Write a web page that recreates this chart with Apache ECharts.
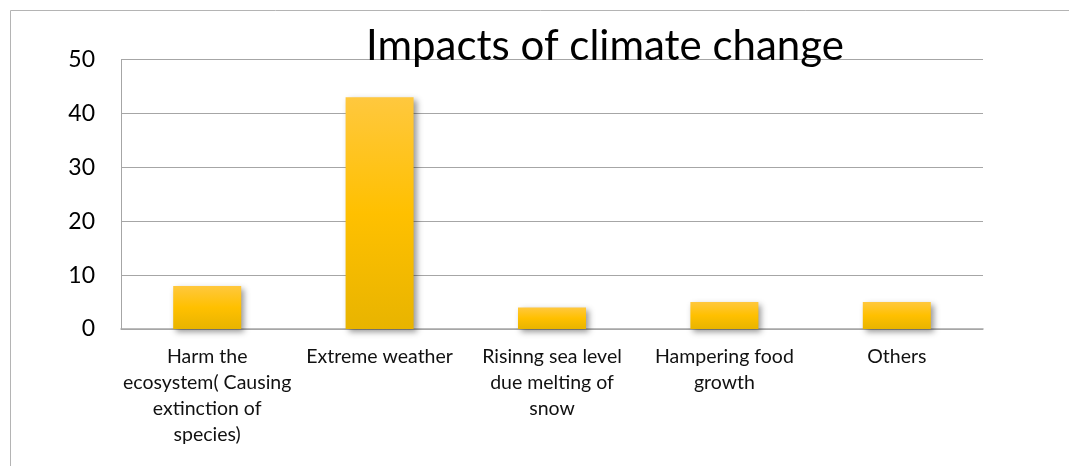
<!DOCTYPE html>
<html>
<head>
<meta charset="utf-8">
<script src="https://cdn.jsdelivr.net/npm/echarts@6/dist/echarts.min.js"></script>
<style>
  html, body { margin: 0; padding: 0; background: #fff; }
  #chart { width: 1069px; height: 466px; }
</style>
</head>
<body>
<div id="chart"></div>
<script>
var categories = [
    'Harm the\necosystem( Causing\nextinction of\nspecies)',
    'Extreme weather',
    'Risinng sea level\ndue melting of\nsnow',
    'Hampering food\ngrowth',
    'Others'
];
var impactValues = [8, 43, 4, 5, 5];
var yTicks = { min: 0, max: 50, interval: 10 };

var chart = echarts.init(document.getElementById('chart'), null, { renderer: 'canvas' });

var gridGray = '#a6a6a6';
var fontFam = 'Lato, "Open Sans", sans-serif';

chart.setOption({
    animation: false,
    backgroundColor: '#fff',
    title: {
        text: 'Impacts of climate change',
        left: 600,
        top: 20,
        textAlign: 'center',
        textStyle: {
            color: '#000',
            fontFamily: fontFam,
            fontWeight: 'normal',
            fontSize: 42
        }
    },
    graphic: [{
        type: 'rect',
        shape: { x: 10.5, y: 10.5, width: 1100, height: 500 },
        style: { fill: 'none', stroke: '#b4b4b4', lineWidth: 1 },
        z: -1
    }],
    grid: {
        left: 121,
        right: 86,
        top: 59.5,
        bottom: 137
    },
    xAxis: {
        type: 'category',
        data: categories,
        axisTick: { show: false },
        axisLine: { lineStyle: { color: gridGray, width: 1.5 } },
        axisLabel: {
            interval: 0,
            color: '#111',
            fontFamily: fontFam,
            fontSize: 19.5,
            lineHeight: 26,
            margin: 15,
            align: 'center'
        }
    },
    yAxis: {
        type: 'value',
        min: yTicks.min,
        max: yTicks.max,
        interval: yTicks.interval,
        axisLine: { show: true, lineStyle: { color: gridGray, width: 1 } },
        axisTick: { show: false },
        splitLine: { lineStyle: { color: gridGray, width: 1 } },
        axisLabel: {
            color: '#000',
            fontFamily: fontFam,
            fontSize: 23,
            margin: 26
        }
    },
    series: [{
        type: 'bar',
        data: impactValues,
        barWidth: 68,
        itemStyle: {
            color: new echarts.graphic.LinearGradient(0, 0, 0, 1, [
                { offset: 0, color: '#ffc83e' },
                { offset: 0.5, color: '#ffc000' },
                { offset: 1, color: '#e8b400' }
            ]),
            shadowColor: 'rgba(0,0,0,0.4)',
            shadowBlur: 6,
            shadowOffsetX: 3,
            shadowOffsetY: 3
        }
    }]
});
</script>
</body>
</html>
